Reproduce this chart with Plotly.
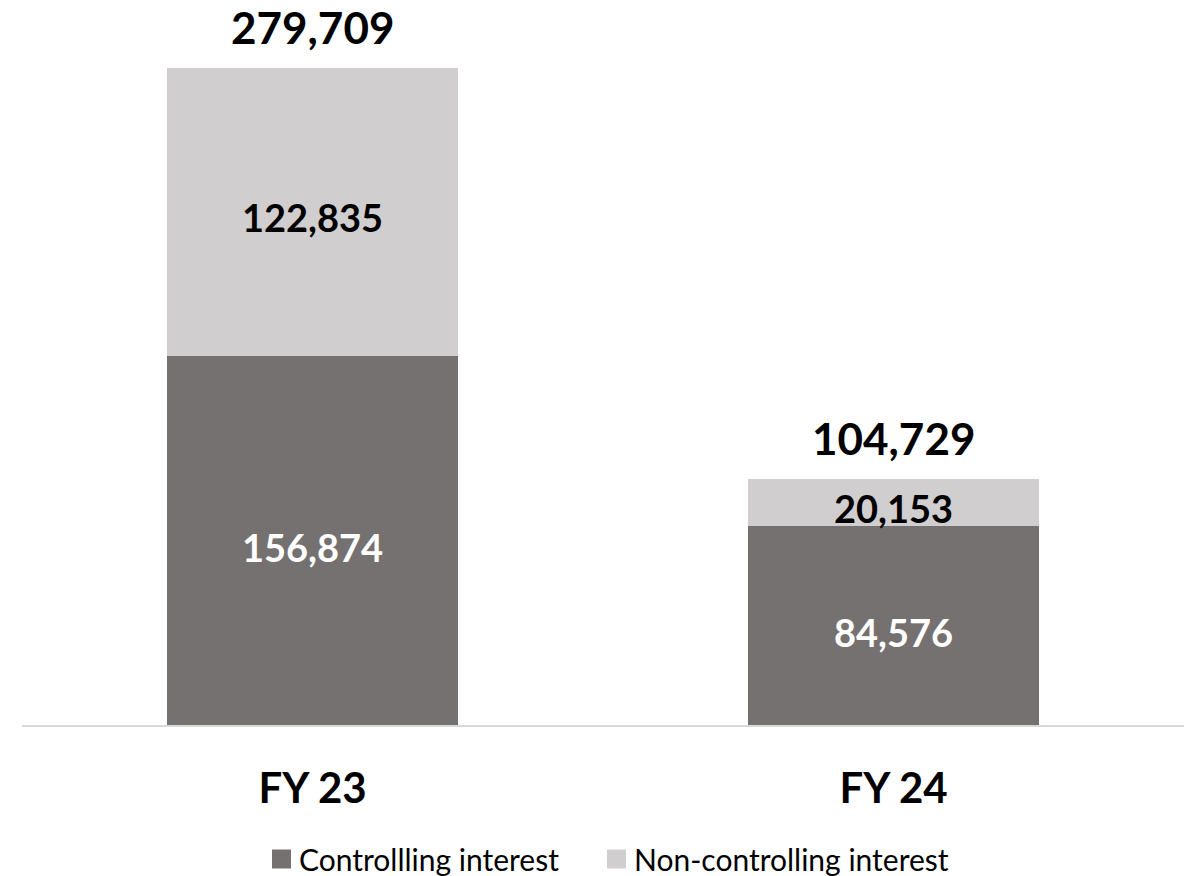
import plotly.graph_objects as go

# Fiscal years and the two components of the total
categories = ["FY 23", "FY 24"]
controlling = [156874, 84576]
non_controlling = [122835, 20153]
totals = [c + n for c, n in zip(controlling, non_controlling)]
series_names = ["Controllling interest", "Non-controlling interest"]

DARK = "#767171"
LIGHT = "#D0CECE"
FONT = "Lato"

W, H = 1186, 876
ML, MR, MT, MB = 22, 2, 20, 151
plot_w = W - ML - MR
plot_h = H - MT - MB


def px_x(px):
    """Pixel column -> paper x."""
    return (px - ML) / plot_w


def px_y(py):
    """Pixel row -> paper y."""
    return (H - MB - py) / plot_h


fig = go.Figure()
fig.add_trace(go.Bar(
    x=categories, y=controlling, name=series_names[0],
    marker=dict(color=DARK, line=dict(width=0)), width=0.5,
))
fig.add_trace(go.Bar(
    x=categories, y=non_controlling, name=series_names[1],
    marker=dict(color=LIGHT, line=dict(width=0)), width=0.5,
))

# Segment value labels at the middle of each segment
for cat, c, n in zip(categories, controlling, non_controlling):
    fig.add_annotation(x=cat, y=c / 2, text=f"<b>{c:,}</b>", showarrow=False,
                       yshift=-6, font=dict(family=FONT, size=38, color="white"))
    fig.add_annotation(x=cat, y=c + n / 2, text=f"<b>{n:,}</b>", showarrow=False,
                       yshift=-5, font=dict(family=FONT, size=38, color="black"))

# Totals above each stack
for cat, t in zip(categories, totals):
    fig.add_annotation(x=cat, y=t, text=f"<b>{t:,}</b>", showarrow=False,
                       yanchor="bottom", yshift=13,
                       font=dict(family=FONT, size=44, color="black"))

# Legend row below the category labels: square swatch + series name
legend_left = [272, 607]
swatch = 19
legend_mid = 859
for name, color, x0 in zip(series_names, [DARK, LIGHT], legend_left):
    fig.add_shape(
        type="rect", xref="paper", yref="paper",
        x0=px_x(x0), x1=px_x(x0 + swatch),
        y0=px_y(legend_mid + swatch / 2), y1=px_y(legend_mid - swatch / 2),
        fillcolor=color, line=dict(width=0),
    )
    fig.add_annotation(
        xref="paper", yref="paper", x=px_x(x0 + swatch + 6), y=px_y(legend_mid),
        xanchor="left", yanchor="middle", text=name, showarrow=False,
        font=dict(family=FONT, size=30, color="black"),
    )

fig.update_layout(
    barmode="stack",
    width=W, height=H,
    margin=dict(l=ML, r=MR, t=MT, b=MB),
    plot_bgcolor="white", paper_bgcolor="white",
    font=dict(family=FONT, color="black"),
    showlegend=False,
    xaxis=dict(
        showline=True, linecolor="#D9D9D9", linewidth=2,
        showgrid=False, zeroline=False, ticks="", automargin=False,
        tickfont=dict(family=FONT, size=42, color="black"),
        ticklabelstandoff=26,
        tickvals=categories,
        ticktext=[f"<b>{c}</b>" for c in categories],
        range=[-0.5, 1.5],
    ),
    yaxis=dict(
        visible=False, range=[0, 300100], showgrid=False, zeroline=False,
        automargin=False,
    ),
)

fig.write_html("out.html")
